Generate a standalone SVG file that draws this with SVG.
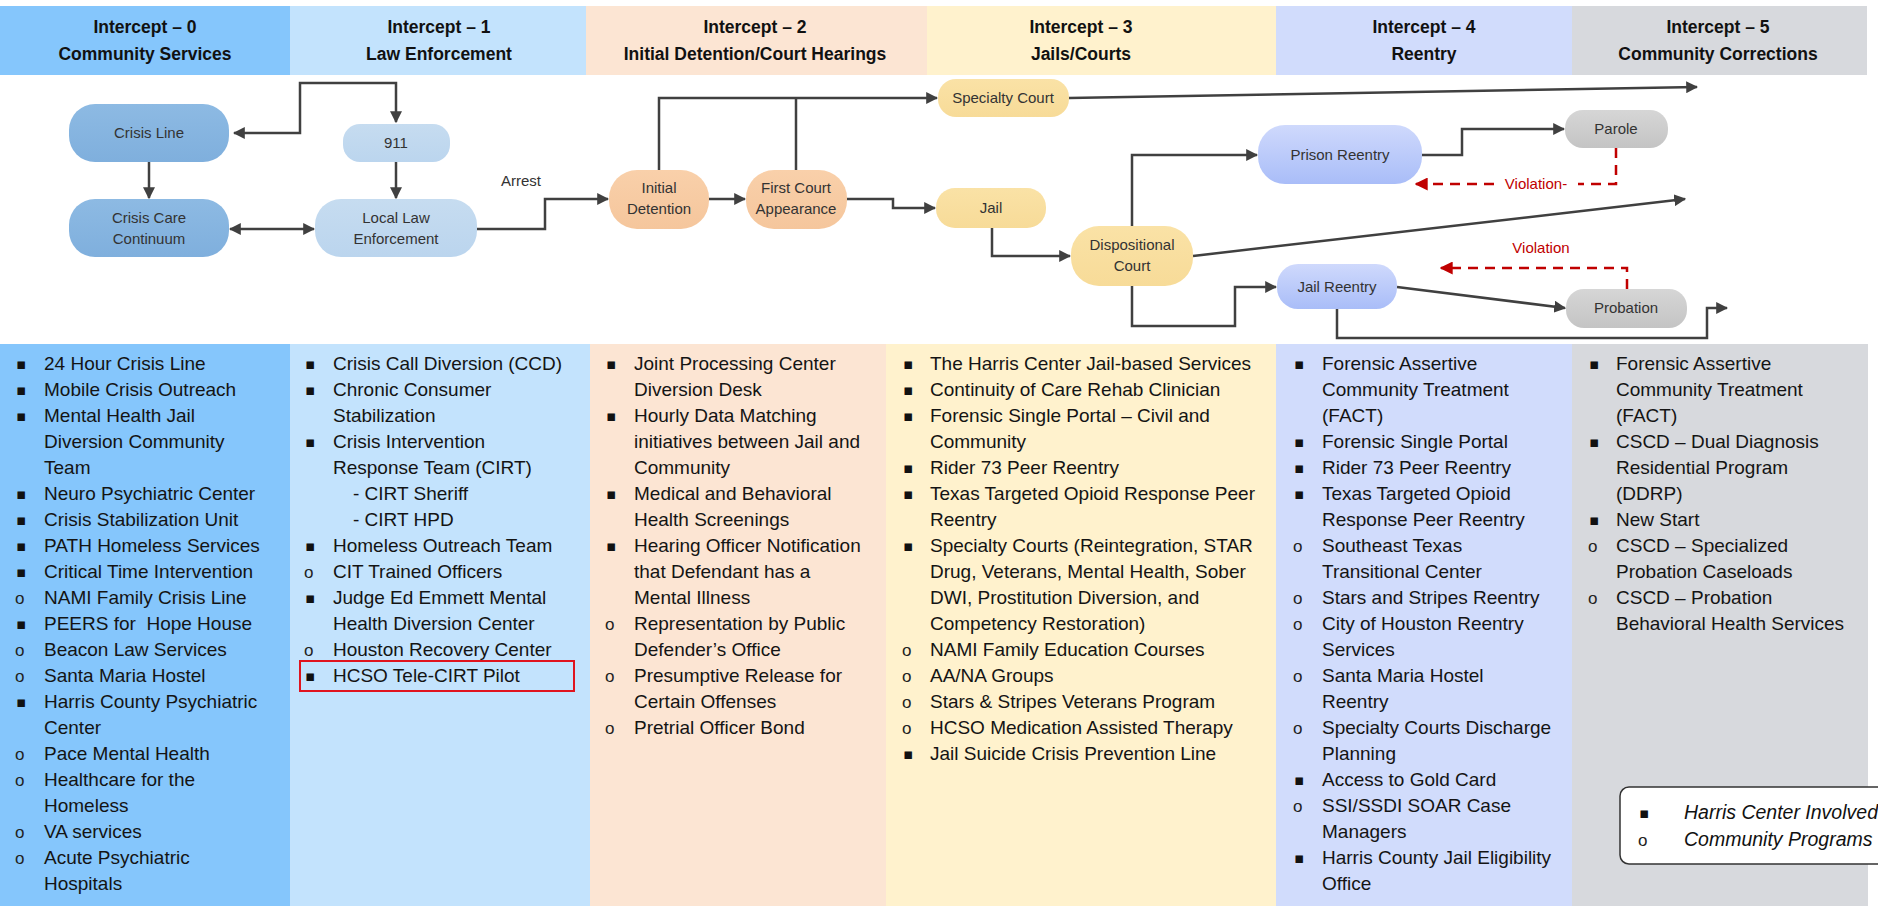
<svg xmlns="http://www.w3.org/2000/svg" width="1878" height="906" viewBox="0 0 1878 906">
<style>
.hd{font-family:"Liberation Sans",Arial,sans-serif;font-weight:bold;font-size:17.5px;fill:#111;text-anchor:middle}
.nt{font-family:"Liberation Sans",Arial,sans-serif;font-size:15px;fill:#333;text-anchor:middle}
.li{font-family:"Liberation Sans",Arial,sans-serif;font-size:19px;fill:#141414}
.sq{font-family:"DejaVu Sans",sans-serif;font-size:15px;fill:#111}
.ci{font-family:"Liberation Sans",Arial,sans-serif;font-size:17px;fill:#222}
.ln{fill:none;stroke:#404040;stroke-width:2.5}
.rd{fill:none;stroke:#C00000;stroke-width:2.5;stroke-dasharray:10 7}
.rt{font-family:"Liberation Sans",Arial,sans-serif;font-size:15px;fill:#C00000;text-anchor:middle}
.lg{font-family:"Liberation Sans",Arial,sans-serif;font-size:19.5px;font-style:italic;fill:#111}
</style>
<defs>
<marker id="arr" viewBox="0 0 10 10" refX="9" refY="5" markerWidth="12" markerHeight="12" markerUnits="userSpaceOnUse" orient="auto-start-reverse"><path d="M0,0 L10,5 L0,10 z" fill="#404040"/></marker>
<marker id="arrR" viewBox="0 0 10 10" refX="9" refY="5" markerWidth="13" markerHeight="13" markerUnits="userSpaceOnUse" orient="auto-start-reverse"><path d="M0,0 L10,5 L0,10 z" fill="#C00000"/></marker>
<linearGradient id="gB" x1="0" y1="0" x2="0" y2="1"><stop offset="0" stop-color="#8DBAE3"/><stop offset="1" stop-color="#7FAFDD"/></linearGradient>
<linearGradient id="gLB" x1="0" y1="0" x2="0" y2="1"><stop offset="0" stop-color="#C6DCF0"/><stop offset="1" stop-color="#BBD5EE"/></linearGradient>
<linearGradient id="gP" x1="0" y1="0" x2="0" y2="1"><stop offset="0" stop-color="#F9D0AA"/><stop offset="1" stop-color="#F5C69C"/></linearGradient>
<linearGradient id="gY" x1="0" y1="0" x2="0" y2="1"><stop offset="0" stop-color="#FAE2A6"/><stop offset="1" stop-color="#F7DB98"/></linearGradient>
<linearGradient id="gL" x1="0" y1="0" x2="0" y2="1"><stop offset="0" stop-color="#CFD9FC"/><stop offset="1" stop-color="#A9BDF8"/></linearGradient>
<linearGradient id="gG" x1="0" y1="0" x2="0" y2="1"><stop offset="0" stop-color="#D6D6D6"/><stop offset="1" stop-color="#C4C4C4"/></linearGradient>
</defs>
<rect width="1878" height="906" fill="#FFFFFF"/>
<g id="header">
<rect x="0" y="6" width="290" height="69" fill="#85C6FC"/>
<rect x="290" y="6" width="296" height="69" fill="#C3E3FD"/>
<rect x="586" y="6" width="341" height="69" fill="#FCE5D3"/>
<rect x="927" y="6" width="349" height="69" fill="#FFF2CD"/>
<rect x="1276" y="6" width="296" height="69" fill="#D1DCFC"/>
<rect x="1572" y="6" width="295" height="69" fill="#D7D9DD"/>
<text class="hd" x="145" y="33">Intercept – 0</text><text class="hd" x="145" y="60">Community Services</text>
<text class="hd" x="439" y="33">Intercept – 1</text><text class="hd" x="439" y="60">Law Enforcement</text>
<text class="hd" x="755" y="33">Intercept – 2</text><text class="hd" x="755" y="60">Initial Detention/Court Hearings</text>
<text class="hd" x="1081" y="33">Intercept – 3</text><text class="hd" x="1081" y="60">Jails/Courts</text>
<text class="hd" x="1424" y="33">Intercept – 4</text><text class="hd" x="1424" y="60">Reentry</text>
<text class="hd" x="1718" y="33">Intercept – 5</text><text class="hd" x="1718" y="60">Community Corrections</text>
</g>
<g id="body-columns">
<rect x="0" y="344" width="290" height="562" fill="#85C6FC"/>
<rect x="290" y="344" width="300" height="562" fill="#C3E3FD"/>
<rect x="590" y="344" width="296" height="562" fill="#FCE5D3"/>
<rect x="886" y="344" width="390" height="562" fill="#FFF2CD"/>
<rect x="1276" y="344" width="296" height="562" fill="#D1DCFC"/>
<rect x="1572" y="344" width="296" height="562" fill="#D7D9DD"/>
</g>
<g id="connectors">
<path class="ln" d="M234,133 H300 V83 H396 V122" marker-start="url(#arr)" marker-end="url(#arr)"/>
<path class="ln" d="M149,162 V198" marker-end="url(#arr)"/>
<path class="ln" d="M396,162 V198" marker-end="url(#arr)"/>
<path class="ln" d="M230,229 H314" marker-start="url(#arr)" marker-end="url(#arr)"/>
<path class="ln" d="M477,229 H545 V199 H608" marker-end="url(#arr)"/>
<path class="ln" d="M709,199 H745" marker-end="url(#arr)"/>
<path class="ln" d="M847,199 H893 V208 H935" marker-end="url(#arr)"/>
<path class="ln" d="M659,170 V98 H937" marker-end="url(#arr)"/>
<path class="ln" d="M796,170 V98"/>
<path class="ln" d="M1069,98 L1697,87" marker-end="url(#arr)"/>
<path class="ln" d="M992,228 V256 H1070" marker-end="url(#arr)"/>
<path class="ln" d="M1132,226 V155 H1257" marker-end="url(#arr)"/>
<path class="ln" d="M1193,256 L1685,199" marker-end="url(#arr)"/>
<path class="ln" d="M1132,286 V326 H1235 V287 H1276" marker-end="url(#arr)"/>
<path class="ln" d="M1422,155 H1462 V129 H1564" marker-end="url(#arr)"/>
<path class="ln" d="M1397,287 L1565,308" marker-end="url(#arr)"/>
<path class="ln" d="M1337,309 V338 H1707 V308 H1727" marker-end="url(#arr)"/>
<path class="rd" d="M1616,148 V184 H1578"/>
<path class="rd" d="M1494,184 H1416" marker-end="url(#arrR)"/>
<path class="rd" d="M1627,289 V268 H1441" marker-end="url(#arrR)"/>
<text class="nt" x="521" y="186">Arrest</text>
<text class="rt" x="1536" y="189">Violation-</text>
<text class="rt" x="1541" y="253">Violation</text>
</g>
<g id="crisis-line"><rect x="69" y="104" width="160" height="58" rx="26" fill="url(#gB)"/><text class="nt" x="149" y="138">Crisis Line</text></g>
<g id="crisis-care-continuum"><rect x="69" y="199" width="160" height="58" rx="26" fill="url(#gB)"/><text class="nt" x="149" y="223">Crisis Care</text><text class="nt" x="149" y="244">Continuum</text></g>
<g id="n911"><rect x="343" y="124" width="107" height="38" rx="17" fill="url(#gLB)"/><text class="nt" x="396" y="148">911</text></g>
<g id="local-law-enforcement"><rect x="315" y="199" width="162" height="58" rx="26" fill="url(#gLB)"/><text class="nt" x="396" y="223">Local Law</text><text class="nt" x="396" y="244">Enforcement</text></g>
<g id="initial-detention"><rect x="609" y="170" width="100" height="59" rx="28" fill="url(#gP)"/><text class="nt" x="659" y="193">Initial</text><text class="nt" x="659" y="214">Detention</text></g>
<g id="first-court-appearance"><rect x="746" y="170" width="101" height="59" rx="28" fill="url(#gP)"/><text class="nt" x="796" y="193">First Court</text><text class="nt" x="796" y="214">Appearance</text></g>
<g id="specialty-court"><rect x="938" y="79" width="131" height="38" rx="18" fill="url(#gY)"/><text class="nt" x="1003" y="103">Specialty Court</text></g>
<g id="jail"><rect x="936" y="188" width="110" height="40" rx="19" fill="url(#gY)"/><text class="nt" x="991" y="213">Jail</text></g>
<g id="dispositional-court"><rect x="1071" y="226" width="122" height="60" rx="28" fill="url(#gY)"/><text class="nt" x="1132" y="250">Dispositional</text><text class="nt" x="1132" y="271">Court</text></g>
<g id="prison-reentry"><rect x="1258" y="125" width="164" height="59" rx="27" fill="url(#gL)"/><text class="nt" x="1340" y="160">Prison Reentry</text></g>
<g id="jail-reentry"><rect x="1277" y="264" width="120" height="45" rx="21" fill="url(#gL)"/><text class="nt" x="1337" y="292">Jail Reentry</text></g>
<g id="parole"><rect x="1565" y="110" width="103" height="38" rx="18" fill="url(#gG)"/><text class="nt" x="1616" y="134">Parole</text></g>
<g id="probation"><rect x="1566" y="289" width="121" height="39" rx="18" fill="url(#gG)"/><text class="nt" x="1626" y="313">Probation</text></g>
<g id="list-0">
<text class="sq" x="16" y="369">▪</text><text class="li" x="44" y="370">24 Hour Crisis Line</text>
<text class="sq" x="16" y="395">▪</text><text class="li" x="44" y="396">Mobile Crisis Outreach</text>
<text class="sq" x="16" y="421">▪</text><text class="li" x="44" y="422">Mental Health Jail</text>
<text class="li" x="44" y="448">Diversion Community</text>
<text class="li" x="44" y="474">Team</text>
<text class="sq" x="16" y="499">▪</text><text class="li" x="44" y="500">Neuro Psychiatric Center</text>
<text class="sq" x="16" y="525">▪</text><text class="li" x="44" y="526">Crisis Stabilization Unit</text>
<text class="sq" x="16" y="551">▪</text><text class="li" x="44" y="552">PATH Homeless Services</text>
<text class="sq" x="16" y="577">▪</text><text class="li" x="44" y="578">Critical Time Intervention</text>
<text class="ci" x="15" y="604">o</text><text class="li" x="44" y="604">NAMI Family Crisis Line</text>
<text class="sq" x="16" y="629">▪</text><text class="li" x="44" y="630">PEERS for&#160; Hope House</text>
<text class="ci" x="15" y="656">o</text><text class="li" x="44" y="656">Beacon Law Services</text>
<text class="ci" x="15" y="682">o</text><text class="li" x="44" y="682">Santa Maria Hostel</text>
<text class="sq" x="16" y="707">▪</text><text class="li" x="44" y="708">Harris County Psychiatric</text>
<text class="li" x="44" y="734">Center</text>
<text class="ci" x="15" y="760">o</text><text class="li" x="44" y="760">Pace Mental Health</text>
<text class="ci" x="15" y="786">o</text><text class="li" x="44" y="786">Healthcare for the</text>
<text class="li" x="44" y="812">Homeless</text>
<text class="ci" x="15" y="838">o</text><text class="li" x="44" y="838">VA services</text>
<text class="ci" x="15" y="864">o</text><text class="li" x="44" y="864">Acute Psychiatric</text>
<text class="li" x="44" y="890">Hospitals</text>
</g>
<g id="list-1">
<text class="sq" x="305" y="369">▪</text><text class="li" x="333" y="370">Crisis Call Diversion (CCD)</text>
<text class="sq" x="305" y="395">▪</text><text class="li" x="333" y="396">Chronic Consumer</text>
<text class="li" x="333" y="422">Stabilization</text>
<text class="sq" x="305" y="447">▪</text><text class="li" x="333" y="448">Crisis Intervention</text>
<text class="li" x="333" y="474">Response Team (CIRT)</text>
<text class="li" x="353" y="500">- CIRT Sheriff</text>
<text class="li" x="353" y="526">- CIRT HPD</text>
<text class="sq" x="305" y="551">▪</text><text class="li" x="333" y="552">Homeless Outreach Team</text>
<text class="ci" x="304" y="578">o</text><text class="li" x="333" y="578">CIT Trained Officers</text>
<text class="sq" x="305" y="603">▪</text><text class="li" x="333" y="604">Judge Ed Emmett Mental</text>
<text class="li" x="333" y="630">Health Diversion Center</text>
<text class="ci" x="304" y="656">o</text><text class="li" x="333" y="656">Houston Recovery Center</text>
<rect x="300" y="661" width="274" height="30" fill="none" stroke="#E0141E" stroke-width="2"/>
<text class="sq" x="305" y="681">▪</text><text class="li" x="333" y="682">HCSO Tele-CIRT Pilot</text>
</g>
<g id="list-2">
<text class="sq" x="606" y="369">▪</text><text class="li" x="634" y="370">Joint Processing Center</text>
<text class="li" x="634" y="396">Diversion Desk</text>
<text class="sq" x="606" y="421">▪</text><text class="li" x="634" y="422">Hourly Data Matching</text>
<text class="li" x="634" y="448">initiatives between Jail and</text>
<text class="li" x="634" y="474">Community</text>
<text class="sq" x="606" y="499">▪</text><text class="li" x="634" y="500">Medical and Behavioral</text>
<text class="li" x="634" y="526">Health Screenings</text>
<text class="sq" x="606" y="551">▪</text><text class="li" x="634" y="552">Hearing Officer Notification</text>
<text class="li" x="634" y="578">that Defendant has a</text>
<text class="li" x="634" y="604">Mental Illness</text>
<text class="ci" x="605" y="630">o</text><text class="li" x="634" y="630">Representation by Public</text>
<text class="li" x="634" y="656">Defender’s Office</text>
<text class="ci" x="605" y="682">o</text><text class="li" x="634" y="682">Presumptive Release for</text>
<text class="li" x="634" y="708">Certain Offenses</text>
<text class="ci" x="605" y="734">o</text><text class="li" x="634" y="734">Pretrial Officer Bond</text>
</g>
<g id="list-3">
<text class="sq" x="903" y="369">▪</text><text class="li" x="930" y="370">The Harris Center Jail-based Services</text>
<text class="sq" x="903" y="395">▪</text><text class="li" x="930" y="396">Continuity of Care Rehab Clinician</text>
<text class="sq" x="903" y="421">▪</text><text class="li" x="930" y="422">Forensic Single Portal – Civil and</text>
<text class="li" x="930" y="448">Community</text>
<text class="sq" x="903" y="473">▪</text><text class="li" x="930" y="474">Rider 73 Peer Reentry</text>
<text class="sq" x="903" y="499">▪</text><text class="li" x="930" y="500">Texas Targeted Opioid Response Peer</text>
<text class="li" x="930" y="526">Reentry</text>
<text class="sq" x="903" y="551">▪</text><text class="li" x="930" y="552">Specialty Courts (Reintegration, STAR</text>
<text class="li" x="930" y="578">Drug, Veterans, Mental Health, Sober</text>
<text class="li" x="930" y="604">DWI, Prostitution Diversion, and</text>
<text class="li" x="930" y="630">Competency Restoration)</text>
<text class="ci" x="902" y="656">o</text><text class="li" x="930" y="656">NAMI Family Education Courses</text>
<text class="ci" x="902" y="682">o</text><text class="li" x="930" y="682">AA/NA Groups</text>
<text class="ci" x="902" y="708">o</text><text class="li" x="930" y="708">Stars &amp; Stripes Veterans Program</text>
<text class="ci" x="902" y="734">o</text><text class="li" x="930" y="734">HCSO Medication Assisted Therapy</text>
<text class="sq" x="903" y="759">▪</text><text class="li" x="930" y="760">Jail Suicide Crisis Prevention Line</text>
</g>
<g id="list-4">
<text class="sq" x="1294" y="369">▪</text><text class="li" x="1322" y="370">Forensic Assertive</text>
<text class="li" x="1322" y="396">Community Treatment</text>
<text class="li" x="1322" y="422">(FACT)</text>
<text class="sq" x="1294" y="447">▪</text><text class="li" x="1322" y="448">Forensic Single Portal</text>
<text class="sq" x="1294" y="473">▪</text><text class="li" x="1322" y="474">Rider 73 Peer Reentry</text>
<text class="sq" x="1294" y="499">▪</text><text class="li" x="1322" y="500">Texas Targeted Opioid</text>
<text class="li" x="1322" y="526">Response Peer Reentry</text>
<text class="ci" x="1293" y="552">o</text><text class="li" x="1322" y="552">Southeast Texas</text>
<text class="li" x="1322" y="578">Transitional Center</text>
<text class="ci" x="1293" y="604">o</text><text class="li" x="1322" y="604">Stars and Stripes Reentry</text>
<text class="ci" x="1293" y="630">o</text><text class="li" x="1322" y="630">City of Houston Reentry</text>
<text class="li" x="1322" y="656">Services</text>
<text class="ci" x="1293" y="682">o</text><text class="li" x="1322" y="682">Santa Maria Hostel</text>
<text class="li" x="1322" y="708">Reentry</text>
<text class="ci" x="1293" y="734">o</text><text class="li" x="1322" y="734">Specialty Courts Discharge</text>
<text class="li" x="1322" y="760">Planning</text>
<text class="sq" x="1294" y="785">▪</text><text class="li" x="1322" y="786">Access to Gold Card</text>
<text class="ci" x="1293" y="812">o</text><text class="li" x="1322" y="812">SSI/SSDI SOAR Case</text>
<text class="li" x="1322" y="838">Managers</text>
<text class="sq" x="1294" y="863">▪</text><text class="li" x="1322" y="864">Harris County Jail Eligibility</text>
<text class="li" x="1322" y="890">Office</text>
</g>
<g id="list-5">
<text class="sq" x="1589" y="369">▪</text><text class="li" x="1616" y="370">Forensic Assertive</text>
<text class="li" x="1616" y="396">Community Treatment</text>
<text class="li" x="1616" y="422">(FACT)</text>
<text class="sq" x="1589" y="447">▪</text><text class="li" x="1616" y="448">CSCD – Dual Diagnosis</text>
<text class="li" x="1616" y="474">Residential Program</text>
<text class="li" x="1616" y="500">(DDRP)</text>
<text class="sq" x="1589" y="525">▪</text><text class="li" x="1616" y="526">New Start</text>
<text class="ci" x="1588" y="552">o</text><text class="li" x="1616" y="552">CSCD – Specialized</text>
<text class="li" x="1616" y="578">Probation Caseloads</text>
<text class="ci" x="1588" y="604">o</text><text class="li" x="1616" y="604">CSCD – Probation</text>
<text class="li" x="1616" y="630">Behavioral Health Services</text>
</g>
<g id="legend">
<rect x="1620" y="787" width="290" height="77" rx="9" fill="#FFFFFF" stroke="#333" stroke-width="1.5"/>
<text class="sq" x="1639" y="818">▪</text><text class="lg" x="1684" y="819">Harris Center Involved</text>
<text class="ci" x="1638" y="846">o</text><text class="lg" x="1684" y="846">Community Programs</text>
</g>
</svg>
